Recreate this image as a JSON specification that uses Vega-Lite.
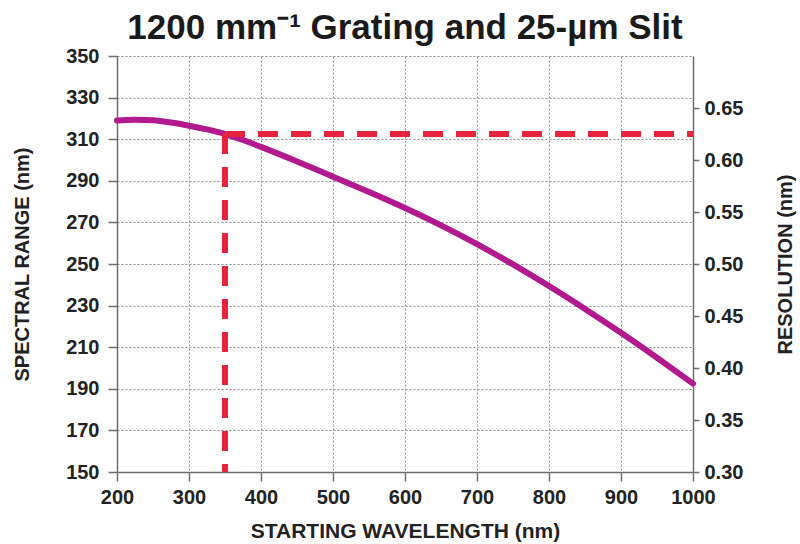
{
  "$schema": "https://vega.github.io/schema/vega-lite/v6.json",
  "autosize": "none",
  "width": 576,
  "height": 416,
  "padding": {"left": 117, "top": 56, "right": 107, "bottom": 72},
  "background": "white",
  "config": {
    "view": {"stroke": null},
    "font": "Liberation Sans",
    "axis": {
      "labelFont": "Liberation Sans",
      "labelFontWeight": "bold",
      "labelFontSize": 20,
      "labelColor": "#222222",
      "labelFlush": false,
      "titleFont": "Liberation Sans",
      "titleFontWeight": "bold",
      "titleFontSize": 21,
      "titleColor": "#222222",
      "domainColor": "#6e6e6e",
      "domainWidth": 1.5,
      "tickColor": "#6e6e6e",
      "tickWidth": 1.5,
      "tickSize": 9,
      "gridColor": "#8a8a8a",
      "gridDash": [2, 2],
      "gridWidth": 1
    }
  },
  "title": {
    "text": "1200 mm⁻¹ Grating and 25-µm Slit",
    "font": "Liberation Sans",
    "fontSize": 35,
    "fontWeight": "bold",
    "color": "#1a1a1a",
    "anchor": "middle",
    "offset": 0
  },
  "datasets": {
    "curve": [
      {"wavelength": 200, "range": 319.0},
      {"wavelength": 225, "range": 319.4},
      {"wavelength": 250, "range": 319.1},
      {"wavelength": 275, "range": 318.0},
      {"wavelength": 300, "range": 316.5},
      {"wavelength": 325, "range": 314.7},
      {"wavelength": 350, "range": 312.5},
      {"wavelength": 375, "range": 309.6},
      {"wavelength": 400, "range": 306.3},
      {"wavelength": 450, "range": 299.3},
      {"wavelength": 500, "range": 292.0},
      {"wavelength": 550, "range": 284.6},
      {"wavelength": 600, "range": 276.9},
      {"wavelength": 650, "range": 268.6},
      {"wavelength": 700, "range": 259.6},
      {"wavelength": 750, "range": 249.8},
      {"wavelength": 800, "range": 239.4},
      {"wavelength": 850, "range": 228.4},
      {"wavelength": 900, "range": 216.9},
      {"wavelength": 950, "range": 204.9},
      {"wavelength": 1000, "range": 192.5}
    ],
    "vmarker": [
      {"wavelength": 350, "rangeStart": 312.5, "rangeEnd": 150}
    ],
    "hmarker": [
      {"wavelengthStart": 350, "wavelengthEnd": 1000, "resolution": 0.625}
    ]
  },
  "layer": [
    {
      "layer": [
        {
          "data": {"name": "curve"},
          "mark": {"type": "line", "color": "#b2198c", "strokeWidth": 6, "strokeCap": "round", "interpolate": "monotone"},
          "encoding": {
            "x": {
              "field": "wavelength", "type": "quantitative",
              "scale": {"domain": [200, 1000], "nice": false},
              "axis": {"values": [200, 300, 400, 500, 600, 700, 800, 900, 1000], "format": "d", "title": "STARTING WAVELENGTH (nm)", "labelPadding": 6, "titlePadding": 13, "grid": true}
            },
            "y": {
              "field": "range", "type": "quantitative",
              "scale": {"domain": [150, 350], "nice": false, "zero": false},
              "axis": {"values": [150, 170, 190, 210, 230, 250, 270, 290, 310, 330, 350], "title": "SPECTRAL RANGE (nm)", "titleFontSize": 20, "labelPadding": 9, "titleX": -95, "titleY": 208, "titleAlign": "center", "titleBaseline": "middle", "titleAngle": 270, "grid": true}
            }
          }
        },
        {
          "data": {"name": "vmarker"},
          "mark": {"type": "rule", "color": "#e8243c", "strokeWidth": 6, "strokeDash": [20, 13]},
          "encoding": {
            "x": {"field": "wavelength", "type": "quantitative"},
            "y": {"field": "rangeStart", "type": "quantitative"},
            "y2": {"field": "rangeEnd"}
          }
        }
      ]
    },
    {
      "data": {"name": "hmarker"},
      "mark": {"type": "rule", "color": "#e8243c", "strokeWidth": 6, "strokeDash": [20, 13]},
      "encoding": {
        "x": {"field": "wavelengthStart", "type": "quantitative"},
        "x2": {"field": "wavelengthEnd"},
        "y": {
          "field": "resolution", "type": "quantitative",
          "scale": {"domain": [0.30, 0.70], "nice": false, "zero": false},
          "axis": {"orient": "right", "values": [0.30, 0.35, 0.40, 0.45, 0.50, 0.55, 0.60, 0.65], "format": ".2f", "title": "RESOLUTION (nm)", "titleFontSize": 20, "titleAngle": 270, "titleX": 92, "titleY": 208, "titleAlign": "center", "titleBaseline": "middle", "labelPadding": 5, "grid": false, "tickSize": 6}
        }
      }
    }
  ],
  "resolve": {"scale": {"y": "independent"}}
}
